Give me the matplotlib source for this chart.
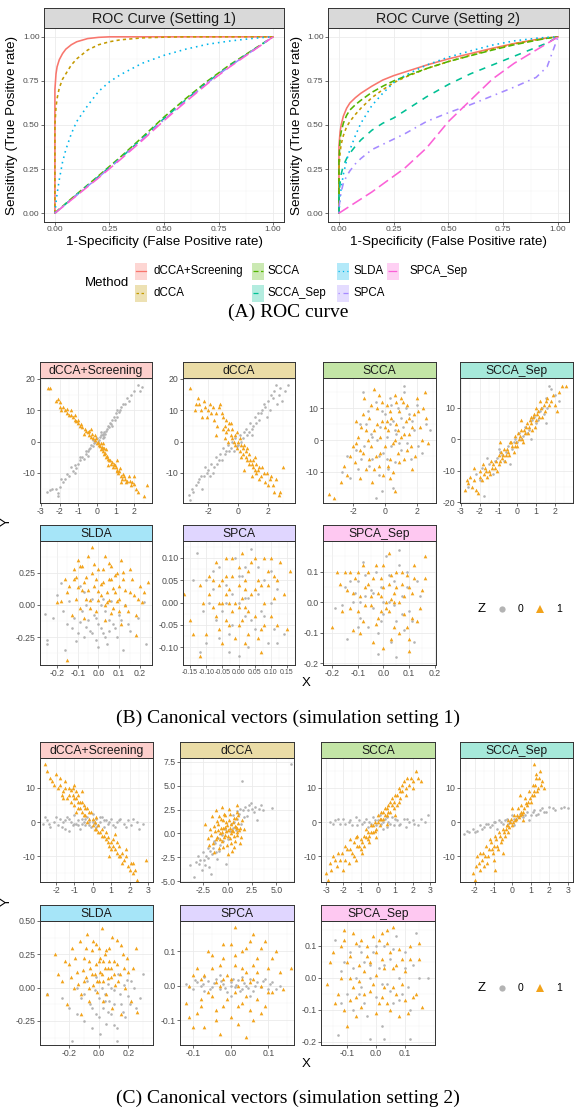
import numpy as np
import matplotlib
matplotlib.use('Agg')
import matplotlib.pyplot as plt
from matplotlib.ticker import AutoMinorLocator
from matplotlib.colors import to_rgb
from matplotlib.patches import Rectangle

plt.rcParams['font.family'] = ['Liberation Sans', 'DejaVu Sans']

# ---------------- data ----------------
methods = ['dCCA+Screening', 'dCCA', 'SCCA', 'SCCA_Sep', 'SLDA', 'SPCA', 'SPCA_Sep']

# ROC curves (false positive rate grid, 0 repeated for the vertical start)
fpr = [0, 0, 0.005, 0.01, 0.02, 0.035, 0.05, 0.075, 0.1, 0.15, 0.2, 0.25, 0.3,
       0.4, 0.5, 0.6, 0.7, 0.8, 0.9, 0.95, 1.0]

s1_screen = [0, 0.70, 0.79, 0.83, 0.87, 0.905, 0.93, 0.955, 0.972, 0.99, 0.997, 1.0, 1.0,
             1.0, 1.0, 1.0, 1.0, 1.0, 1.0, 1.0, 1.0]
s1_dcca = [0, 0.50, 0.60, 0.65, 0.71, 0.76, 0.79, 0.84, 0.875, 0.925, 0.955, 0.972, 0.983,
           0.994, 0.998, 1.0, 1.0, 1.0, 1.0, 1.0, 1.0]
s1_scca = [0, 0, 0.006, 0.012, 0.023, 0.039, 0.055, 0.082, 0.108, 0.16, 0.212, 0.265, 0.318,
           0.43, 0.545, 0.65, 0.75, 0.84, 0.92, 0.96, 1.0]
s1_scca_sep = [0, 0, 0.005, 0.011, 0.022, 0.037, 0.053, 0.079, 0.105, 0.157, 0.208, 0.26, 0.312,
               0.423, 0.537, 0.643, 0.744, 0.835, 0.918, 0.959, 1.0]
s1_slda = [0, 0, 0.06, 0.11, 0.19, 0.29, 0.36, 0.45, 0.52, 0.61, 0.69, 0.745, 0.785,
           0.85, 0.895, 0.93, 0.958, 0.976, 0.99, 0.996, 1.0]
s1_spca = [0, 0, 0.005, 0.01, 0.021, 0.036, 0.051, 0.077, 0.102, 0.153, 0.204, 0.256, 0.308,
           0.418, 0.53, 0.637, 0.74, 0.832, 0.916, 0.958, 1.0]
s1_spca_sep = [0, 0, 0.005, 0.01, 0.02, 0.035, 0.05, 0.075, 0.1, 0.15, 0.2, 0.252, 0.304,
               0.412, 0.525, 0.632, 0.735, 0.828, 0.914, 0.957, 1.0]

s2_screen = [0, 0.38, 0.46, 0.50, 0.55, 0.595, 0.625, 0.655, 0.68, 0.72, 0.755, 0.78, 0.80,
             0.84, 0.875, 0.905, 0.935, 0.962, 0.985, 0.994, 1.0]
s2_dcca = [0, 0.25, 0.34, 0.39, 0.44, 0.49, 0.52, 0.56, 0.595, 0.655, 0.70, 0.74, 0.77,
           0.82, 0.86, 0.895, 0.93, 0.96, 0.983, 0.993, 1.0]
s2_scca = [0, 0.30, 0.42, 0.46, 0.51, 0.555, 0.585, 0.615, 0.64, 0.685, 0.72, 0.75, 0.775,
           0.82, 0.86, 0.893, 0.925, 0.955, 0.98, 0.992, 1.0]
s2_scca_sep = [0, 0.10, 0.17, 0.22, 0.27, 0.31, 0.34, 0.38, 0.415, 0.47, 0.51, 0.54, 0.58,
               0.66, 0.73, 0.79, 0.84, 0.89, 0.94, 0.965, 1.0]
s2_slda = [0, 0, 0.09, 0.14, 0.22, 0.30, 0.36, 0.44, 0.51, 0.61, 0.68, 0.74, 0.78,
           0.84, 0.885, 0.92, 0.953, 0.977, 0.992, 0.997, 1.0]
s2_spca = [0, 0.03, 0.08, 0.12, 0.17, 0.21, 0.24, 0.28, 0.31, 0.36, 0.39, 0.42, 0.45,
           0.52, 0.57, 0.615, 0.665, 0.715, 0.77, 0.83, 1.0]
s2_spca_sep = [0, 0, 0.004, 0.008, 0.016, 0.028, 0.04, 0.06, 0.08, 0.12, 0.165, 0.21, 0.255,
               0.37, 0.52, 0.64, 0.76, 0.85, 0.925, 0.962, 1.0]

# canonical vectors, setting 1: (x, y) points, z0 = grey, z1 = orange
b1_z0 = [(-2.7,-16),(-2.4,-15),(-2.2,-15),(-2.0,-14.5),(-2.1,-17.5),(-2.1,-16.5),(-1.8,-13),(-1.7,-12),
         (-1.5,-11),(-1.3,-9.5),(-1.2,-10),(-1.1,-8.5),(-1.0,-7),(-0.9,-6),(-0.8,-5),(-0.7,-5.5),(-0.6,-4),
         (-0.5,-3),(-0.4,-2.5),(-0.3,-1),(-0.2,-1.5),(-0.1,0),(0.0,1),(0.1,0.5),(0.2,2),(0.3,2.5),(0.4,3),
         (0.5,3.5),(0.6,5),(0.7,6),(0.8,7),(0.9,8),(1.0,9),(1.1,10),(1.2,9.5),(1.3,11),(1.4,12),(1.6,14),
         (1.8,15),(2.0,16),(2.2,18),(2.4,17.5),(-0.5,-4.5),(0.3,1),(-1.4,-8),(0.8,5),
         (-2.5,-15.5),(-1.9,-12),(-1.6,-10.5),(-1.2,-7.5),(-0.9,-5),(-0.6,-3),(-0.35,-2),(-0.15,-0.5),
         (0.05,0),(0.15,1.5),(0.35,2),(0.45,2.5),(0.55,4),(0.65,4.5),(0.75,5.5),(0.95,7),(1.05,8),
         (1.25,10),(1.5,12),(1.7,13),(2.3,16),(0.2,3),(0.4,1.5),(-0.2,0.5)]
b1_z1 = [(-2.6,17),(-2.5,17),(-2.1,13.5),(-2.0,12.5),(-2.0,11),(-1.9,10),(-1.7,10),(-1.6,9),(-1.5,8.5),
         (-1.3,8),(-1.2,7),(-1.1,6.5),(-1.0,6),(-0.9,5),(-0.8,4.5),(-0.6,3.5),(-0.5,3),(-0.4,2),(-0.3,1.5),
         (-0.2,1),(-0.1,0.5),(0.0,-0.5),(0.1,-1),(0.2,-2.5),(0.3,-3),(0.4,-4),(0.5,-5),(0.6,-5.5),(0.7,-6),
         (0.8,-6.5),(0.9,-7),(1.0,-8),(1.1,-9),(1.2,-9.5),(1.3,-11),(1.4,-10.5),(1.5,-12),(1.6,-12.5),
         (1.8,-14),(1.9,-13),(2.0,-11),(2.2,-16),(2.5,-17.5),(2.7,-14),(-1.4,10),(-0.7,2.5),(0.4,-2),
         (0.6,-7.5),(1.1,-6),(1.7,-11),(-0.3,4),(0.2,-0.5),(1.3,-13),
         (-2.2,13),(-1.8,11),(-1.6,10.5),(-1.4,8.5),(-1.2,8.5),(-1.0,7),(-0.85,5.5),(-0.65,4),(-0.45,3.5),
         (-0.25,2.5),(-0.05,1),(0.05,-0.2),(0.15,-1.5),(0.25,-1.8),(0.35,-2.2),(0.45,-3.5),(0.55,-4.5),
         (0.65,-6),(0.75,-7),(0.85,-8),(0.95,-7.5),(1.05,-9.5),(1.15,-10),(1.25,-8.5),(1.35,-12),
         (1.45,-11),(1.55,-13),(1.75,-12.5),(2.0,-13.5),(2.1,-15),(0.3,-0.5),(0.5,-2.5),(-0.1,2)]
b2_z0 = [(-3.3,-17),(-3.2,-18.5),(-3.1,-15),(-2.8,-14),(-2.7,-13),(-2.4,-15),(-2.3,-11),(-2.2,-8),(-2.0,-9),
         (-1.8,-7),(-1.7,-10),(-1.5,-5),(-1.4,-7),(-1.2,-4),(-1.1,-6),(-1.0,-2),(-0.8,-3),(-0.7,-1),(-0.5,-2),
         (-0.4,0),(-0.2,1),(0.0,-1),(0.1,2),(0.3,1),(0.4,3),(0.5,4),(0.7,3),(0.8,6),(1.0,5),(1.1,8),(1.3,9),
         (1.4,7),(1.6,10),(1.8,11),(2.0,13),(2.2,15),(2.4,16),(2.5,18),(2.8,17),(3.1,16),(-2.5,-11),
         (-0.3,-3),(0.9,2),(1.9,8),(2.9,13),
         (-3.0,-16),(-2.6,-12),(-2.1,-10),(-1.9,-11),(-1.6,-8),(-1.3,-6),(-0.9,-4),(-0.6,-3),(-0.1,-1.5),
         (0.2,0),(0.6,2),(0.9,4),(1.2,6),(1.5,9),(1.7,12),(2.1,10),(2.3,14),(2.6,12),(2.7,15),(3.3,18)]
b2_z1 = [(-3.2,17),(-2.8,12),(-2.5,10),(-2.4,8),(-2.3,13),(-2.2,11),(-2.0,10),(-1.8,9),(-1.6,7),(-1.4,5),
         (-1.3,11),(-1.2,12),(-1.0,8),(-0.9,5),(-0.8,3),(-0.6,6),(-0.5,2),(-0.4,4),(-0.3,0),(-0.2,-1),(0.0,0),
         (0.1,-3),(0.2,-1),(0.3,-4),(0.5,-5),(0.6,-2),(0.7,-7),(0.8,-6),(1.0,-8),(1.1,-5),(1.2,-10),(1.3,-9),
         (1.5,-11),(1.6,-8),(1.8,-13),(1.9,-10),(2.1,-12),(2.3,-14),(2.5,-12),(2.7,-17),(2.8,-16),(3.0,-8),
         (-1.5,2),(-0.7,0),(0.4,-9),(-2.9,10),(0.9,-11),(-0.1,3),
         (-2.7,14),(-2.1,8),(-1.9,12),(-1.7,11),(-1.5,9),(-1.1,9),(-1.0,4),(-0.8,7),(-0.7,4),(-0.5,6),
         (-0.4,1),(-0.2,2),(-0.1,-2),(0.1,1),(0.2,-5),(0.3,-2),(0.4,-1),(0.6,-6),(0.7,-4),(0.9,-7),(1.0,-6),
         (1.1,-9),(1.2,-7),(1.4,-8),(1.4,-12),(1.7,-10),(2.0,-14),(2.2,-11),(2.4,-16),(-2.6,12),(-0.9,1),
         (0.5,-3)]
b3_z0 = [(-2.4,-5),(-2.2,-12),(-1.8,-3),(-1.6,5),(-1.4,15),(-1.3,-2),(-1.1,9),(-1.0,-8),(-0.9,2),(-0.8,-6),
         (-0.6,12),(-0.5,0),(-0.4,-11),(-0.3,4),(-0.1,-4),(0.0,8),(0.1,1),(0.2,-9),(0.3,13),(0.4,-2),(0.5,6),
         (0.6,-7),(0.7,2),(0.8,10),(1.0,-3),(1.1,4),(1.2,15),(1.4,-1),(1.5,8),(1.6,-6),(1.8,3),(2.0,11),
         (2.3,-4),(2.6,5),(2.8,3),(-0.2,-16),(-0.6,-18),(0.5,-15),(1.2,17),(-1.7,-9),
         (-1.2,5),(-0.8,1),(-0.2,9),(0.1,-6),(0.3,5),(0.6,3),(0.9,-1),(1.3,10),(1.7,6),(2.1,-2),(-1.5,-6),
         (-0.4,-5),(0.4,11),(1.0,7),(-2.7,-10)]
b3_z1 = [(-3.5,-17),(-3.2,-18),(-2.6,-8),(-2.4,-11),(-2.0,-2),(-1.9,-7),(-1.7,1),(-1.6,-12),(-1.5,4),
         (-1.4,-4),(-1.3,13),(-1.2,-9),(-1.1,0),(-1.0,7),(-0.9,-2),(-0.8,-13),(-0.7,3),(-0.6,-5),(-0.5,10),
         (-0.4,-8),(-0.3,1),(-0.2,6),(-0.1,-11),(0.0,-2),(0.1,11),(0.2,3),(0.3,-6),(0.4,7),(0.5,-1),(0.6,14),
         (0.7,5),(0.8,-4),(0.9,9),(1.0,1),(1.1,12),(1.2,-6),(1.3,6),(1.4,11),(1.5,2),(1.6,-2),(1.8,8),
         (1.9,-5),(2.0,13),(2.2,4),(2.4,10),(2.5,15),(2.7,-1),(-0.7,16),(0.3,-12),(-1.8,6),(1.7,-9),(0.6,-16),
         (-2.8,-13),(-2.2,-5),(-1.8,-1),(-1.4,8),(-1.2,3),(-1.0,-6),(-0.9,11),(-0.7,-9),(-0.5,5),(-0.3,-4),
         (-0.2,12),(0.0,4),(0.2,-8),(0.3,9),(0.5,-10),(0.6,0),(0.8,3),(0.9,-7),(1.0,13),(1.2,2),(1.4,-3),
         (1.5,7),(1.7,4),(2.1,9),(2.3,0),(2.6,7),(-0.4,14),(0.7,12),(-1.6,-3),(0.1,6)]
b4_z0 = [(-2.2,-11),(-1.8,-18),(-1.9,-9),(-1.5,-8),(-1.3,-11),(-1.1,-6),(-0.9,-4),(-0.7,-7),(-0.5,-2),
         (-0.3,-3),(-0.1,0),(0.0,-1),(0.1,2),(0.3,1),(0.4,4),(0.6,3),(0.8,6),(1.0,5),(1.2,9),(1.4,8),
         (1.5,13),(1.6,10),(1.7,17),(1.8,16),(1.5,5),(-0.4,-8),(-1.0,-3),(0.7,0),
         (-2.6,-15),(-1.6,-6),(-1.2,-7),(-0.8,-5),(-0.6,-4),(-0.2,-1),(0.2,0),(0.5,2),(0.9,7),(1.1,6),
         (1.3,10),(2.0,14),(2.2,12),(-2.0,-13)]
b4_z1 = [(-2.8,-16),(-2.6,-14),(-2.5,-12),(-2.3,-13),(-2.2,-16),(-2.1,-17),(-2.0,-10),(-1.9,-13),(-1.8,-11),
         (-1.7,-9),(-1.6,-12),(-1.5,-10),(-1.4,-7),(-1.3,-8),(-1.2,-9),(-1.1,-10),(-1.0,-5),(-0.9,-7),
         (-0.8,-6),(-0.7,-3),(-0.6,-5),(-0.5,-4),(-0.4,-1),(-0.3,-2),(-0.2,-4),(-0.1,1),(0.0,-2),(0.1,0),
         (0.2,3),(0.3,-1),(0.4,2),(0.5,5),(0.6,4),(0.7,7),(0.8,3),(0.9,8),(1.0,6),(1.1,9),(1.2,12),(1.3,7),
         (1.4,11),(1.6,13),(1.8,12),(2.0,11),(2.1,9),(2.4,17),(2.6,17),(-2.3,-9),(0.2,6),(-0.9,-1),(1.0,10),
         (-2.7,-13),(-2.4,-15),(-2.0,-12),(-1.85,-8),(-1.65,-10),(-1.45,-11),(-1.35,-9),(-1.15,-7),
         (-0.95,-8),(-0.85,-4),(-0.75,-5),(-0.65,-7),(-0.55,-3),(-0.45,-5),(-0.35,-1),(-0.15,-2),(-0.05,-1),
         (0.05,2),(0.15,1),(0.25,0),(0.35,3),(0.45,4),(0.55,2),(0.65,6),(0.75,5),(0.85,7),(0.95,4),(1.05,8),
         (1.15,7),(1.25,10),(1.45,9),(1.55,12),(1.7,11),(1.9,14),(2.2,15)]
b5_z0 = [(-0.26,-0.07),(-0.25,-0.27),(-0.25,-0.30),(-0.2,0.08),(-0.18,0.17),(-0.15,-0.15),(-0.14,0.03),
         (-0.12,-0.1),(-0.1,-0.22),(-0.09,0.15),(-0.08,-0.05),(-0.07,-0.25),(-0.06,0.0),(-0.05,-0.12),
         (-0.04,-0.2),(-0.03,0.05),(-0.02,-0.08),(-0.01,-0.27),(0.0,-0.15),(0.01,0.0),(0.02,-0.22),
         (0.03,-0.05),(0.04,-0.3),(0.05,-0.12),(0.06,0.03),(0.08,-0.18),(0.1,-0.08),(0.12,-0.35),(0.13,0.0),
         (0.15,-0.2),(0.19,-0.1),(0.22,0.02),(0.23,-0.3),(-0.11,-0.28),(0.0,-0.33),(-0.16,-0.35),
         (-0.22,-0.1),(-0.17,-0.05),(-0.13,-0.18),(-0.09,-0.13),(-0.06,-0.17),(-0.03,-0.22),(-0.01,-0.1),
         (0.01,-0.18),(0.03,-0.25),(0.05,-0.2),(0.07,-0.15),(0.09,-0.25),(0.11,-0.12),(0.14,-0.15),
         (-0.07,0.1),(0.02,0.05)]
b5_z1 = [(-0.15,-0.43),(-0.2,0.02),(-0.18,0.03),(-0.15,0.1),(-0.13,-0.08),(-0.12,0.2),(-0.11,0.05),
         (-0.1,0.35),(-0.09,0.3),(-0.08,0.12),(-0.07,-0.1),(-0.06,0.22),(-0.05,0.38),(-0.04,0.04),
         (-0.03,0.45),(-0.02,0.15),(-0.01,-0.05),(0.0,0.28),(0.01,0.08),(0.02,0.18),(0.03,-0.12),(0.04,0.02),
         (0.05,0.33),(0.06,0.2),(0.07,-0.02),(0.08,0.1),(0.09,0.25),(0.1,0.05),(0.11,-0.15),(0.12,0.2),
         (0.13,0.12),(0.14,-0.05),(0.15,0.28),(0.17,0.08),(0.18,-0.08),(0.2,0.15),(0.21,0.02),(0.24,0.18),
         (0.18,-0.23),(-0.04,-0.02),(0.03,0.0),(0.06,-0.06),(-0.1,0.14),(0.0,0.11),(0.11,0.35),(0.05,0.04),
         (-0.16,0.2),(-0.14,0.15),(-0.11,0.22),(-0.08,0.3),(-0.07,0.18),(-0.06,0.05),(-0.05,0.12),
         (-0.03,0.25),(-0.02,0.32),(-0.01,0.2),(0.0,0.04),(0.01,0.16),(0.02,0.28),(0.04,0.1),(0.05,0.2),
         (0.06,0.3),(0.07,0.13),(0.08,0.23),(0.09,0.03),(0.1,0.15),(0.12,0.26),(0.13,0.0),(0.15,0.1),
         (0.16,0.2),(0.19,0.05),(0.22,0.1),(-0.12,0.28),(0.03,0.38),(0.1,-0.05),(-0.09,-0.02)]
b6_z0 = [(-0.13,0.11),(-0.12,-0.11),(-0.1,0.05),(-0.09,0.0),(-0.08,0.03),(-0.07,-0.04),(-0.06,0.08),
         (-0.05,-0.02),(-0.04,0.04),(-0.03,-0.07),(-0.02,0.02),(-0.01,0.1),(0.0,-0.12),(0.0,0.0),(0.01,0.06),
         (0.02,-0.03),(0.03,0.01),(0.04,0.12),(0.05,-0.06),(0.06,0.02),(0.07,-0.02),(0.08,0.05),(0.09,-0.09),
         (0.1,0.0),(0.11,-0.06),(0.12,0.03),(0.14,-0.07),(-0.03,-0.11),(0.02,0.08),(-0.11,-0.02),
         (-0.08,0.07),(-0.06,-0.08),(-0.04,0.0),(-0.02,-0.05),(0.0,0.06),(0.02,0.01),(0.04,-0.04),
         (0.06,0.08),(0.08,-0.03),(0.1,0.07),(0.12,-0.09),(-0.14,0.05),(0.03,-0.1),(-0.1,-0.09)]
b6_z1 = [(-0.17,0.02),(-0.15,-0.04),(-0.12,-0.12),(-0.1,-0.07),(-0.09,0.02),(-0.08,-0.01),(-0.07,0.09),
         (-0.06,0.0),(-0.06,-0.06),(-0.05,0.05),(-0.04,-0.04),(-0.04,0.1),(-0.03,0.03),(-0.02,-0.02),
         (-0.02,0.06),(-0.01,-0.08),(0.0,0.04),(0.0,-0.05),(0.01,0.01),(0.01,0.11),(0.02,-0.01),(0.03,0.07),
         (0.03,-0.07),(0.04,0.02),(0.05,0.1),(0.05,-0.03),(0.06,0.05),(0.07,-0.06),(0.08,0.0),(0.08,0.1),
         (0.09,0.04),(0.1,-0.03),(0.11,0.06),(0.12,-0.05),(0.13,0.09),(0.14,0.02),(0.16,0.07),(-0.05,-0.09),
         (0.07,-0.11),(-0.12,0.04),(0.02,0.03),(-0.03,0.0),
         (-0.14,-0.07),(-0.11,0.0),(-0.09,0.06),(-0.07,-0.03),(-0.06,0.04),(-0.05,0.0),(-0.04,0.06),
         (-0.03,-0.05),(-0.02,0.1),(-0.01,0.0),(0.0,0.08),(0.01,-0.04),(0.02,0.05),(0.03,-0.02),(0.04,0.09),
         (0.05,0.03),(0.06,-0.08),(0.07,0.04),(0.08,-0.05),(0.09,0.07),(0.1,0.1),(0.11,0.01),(0.12,0.05),
         (0.15,-0.06),(-0.08,0.05),(0.0,-0.01),(-0.04,0.02),(0.02,-0.09)]
b7_z0 = [(-0.19,-0.02),(-0.15,0.05),(-0.14,-0.12),(-0.12,0.0),(-0.1,0.07),(-0.09,-0.05),(-0.08,0.13),
         (-0.07,0.02),(-0.06,-0.08),(-0.05,0.04),(-0.04,-0.02),(-0.03,0.1),(-0.02,-0.1),(-0.01,0.05),
         (0.0,-0.04),(0.01,0.15),(0.02,0.0),(0.03,-0.13),(0.04,0.07),(0.05,-0.06),(0.06,0.12),(0.07,0.02),
         (0.08,-0.09),(0.09,0.05),(0.1,-0.03),(0.12,-0.13),(0.14,0.02),(0.05,-0.18),(-0.02,-0.17),
         (0.06,0.17),(-0.11,0.03),
         (-0.16,-0.01),(-0.13,0.07),(-0.1,-0.08),(-0.07,0.09),(-0.04,0.03),(-0.01,-0.06),(0.02,0.09),
         (0.04,-0.01),(0.07,-0.04),(0.09,0.1),(0.11,-0.06),(0.13,0.07),(-0.09,0.0),(0.0,0.0)]
b7_z1 = [(-0.2,-0.08),(-0.17,0.06),(-0.15,0.1),(-0.14,0.04),(-0.13,-0.02),(-0.12,-0.09),(-0.11,0.08),
         (-0.1,-0.03),(-0.09,0.02),(-0.08,-0.06),(-0.07,0.05),(-0.06,0.1),(-0.05,-0.01),(-0.04,0.08),
         (-0.03,-0.07),(-0.02,0.03),(-0.01,-0.03),(0.0,0.12),(0.0,-0.15),(0.01,-0.02),(0.02,0.06),(0.03,0.01),
         (0.04,-0.08),(0.05,0.1),(0.06,0.0),(0.07,0.06),(0.08,-0.04),(0.09,0.09),(0.1,-0.12),(0.11,0.03),
         (0.12,0.08),(0.13,-0.06),(0.15,0.04),(0.16,0.15),(-0.04,-0.13),(0.02,0.16),(-0.01,0.02),(0.04,0.03),
         (0.1,-0.16),(-0.08,0.12),
         (-0.18,0.1),(-0.16,-0.03),(-0.12,0.03),(-0.1,0.1),(-0.09,-0.1),(-0.07,-0.01),(-0.06,0.06),
         (-0.05,0.02),(-0.03,0.12),(-0.02,-0.05),(-0.01,0.08),(0.0,0.05),(0.01,0.0),(0.02,-0.03),(0.03,0.09),
         (0.04,0.0),(0.05,0.05),(0.06,-0.1),(0.07,0.1),(0.08,0.02),(0.1,0.05),(0.11,-0.05),(0.12,0.12),
         (0.14,-0.02),(0.16,0.08),(-0.13,0.1),(0.03,-0.12),(0.09,-0.08)]

# canonical vectors, setting 2
c1_z0 = [(-2.6,1.5),(-2.5,0.5),(-2.3,-1.5),(-2.1,0),(-1.9,-1),(-1.8,1),(-1.6,0),(-1.5,-2),(-1.4,1.5),
         (-1.2,0),(-1.1,-1),(-1.0,2),(-0.9,-0.5),(-0.8,0.5),(-0.7,-2),(-0.6,1),(-0.5,0),(-0.4,-1),(-0.3,1.5),
         (-0.2,0),(-0.1,-1.5),(0.0,0.5),(0.1,-0.5),(0.2,1),(0.3,-1),(0.4,0),(0.5,1.5),(0.6,-1.5),(0.7,0.5),
         (0.8,-0.5),(1.0,1),(1.1,-1),(1.3,0),(1.5,1),(1.7,-0.5),(1.9,0.5),(2.1,-1),(2.4,0),(2.5,-2),
         (-2.7,-0.5),(0.0,2.5),(-1.3,-2.5),
         (-2.4,-0.5),(-2.0,1.5),(-1.7,-1.5),(-1.5,0.5),(-1.3,1),(-1.0,-0.5),(-0.8,-1),(-0.6,-0.5),(-0.4,1),
         (-0.2,-1),(0.0,0),(0.2,-1.5),(0.4,1.5),(0.6,0.5),(0.9,0),(1.2,-1.5),(1.4,0.5),(1.8,-1.5),(2.2,1),
         (2.7,-0.5)]
c1_z1 = [(-2.6,17),(-2.5,15),(-2.2,12),(-2.0,14),(-1.9,10),(-1.8,11),(-1.7,8),(-1.6,9),(-1.5,12),(-1.4,7),
         (-1.3,10),(-1.2,6),(-1.1,8),(-1.0,5),(-0.9,7),(-0.8,4),(-0.7,6),(-0.6,3),(-0.5,5),(-0.4,2),(-0.3,4),
         (-0.2,1),(-0.1,3),(0.0,-1),(0.1,0),(0.2,-2),(0.3,-1),(0.4,-3),(0.5,-2),(0.6,-4),(0.7,-5),(0.8,-4.5),
         (0.9,-7),(1.0,-6),(1.1,-5),(1.2,-8),(1.3,-9),(1.4,-7),(1.5,-10),(1.6,-12),(1.7,-11),(1.8,-8),
         (1.9,-13),(2.1,-12),(2.2,-15),(2.3,-14),(2.4,-17),(2.9,-11),(-0.6,9),(-1.0,11),(0.2,1.5),(-0.9,3),
         (0.9,-10),(1.2,-3.5),
         (-2.3,13),(-2.1,11),(-1.8,13),(-1.6,7),(-1.5,10),(-1.3,8),(-1.1,10),(-1.0,7),(-0.9,9),(-0.8,6),
         (-0.7,4),(-0.6,6),(-0.5,2),(-0.4,4),(-0.3,0),(-0.2,3),(0.0,1),(0.1,-2),(0.3,-3),(0.5,-4),(0.7,-3),
         (0.8,-6),(1.0,-8),(1.1,-7),(1.3,-6),(1.4,-10),(1.6,-9),(1.8,-10),(2.0,-14),(2.2,-12),(-1.2,9.5),
         (-0.8,8)]
c2_z0 = [(-3.9,-3.3),(-3.5,-4.6),(-3.3,-3.0),(-3.0,-3.2),(-2.8,-2.8),(-2.6,-3.8),(-2.5,-2.0),(-2.3,-3.3),
         (-2.2,-2.4),(-2.0,-2.6),(-1.8,-1.8),(-1.7,-4.3),(-1.5,-1.5),(-1.3,-1.0),(-1.2,-2.0),(-1.0,-0.5),
         (-0.8,-1.2),(-0.6,-0.2),(-0.3,0.5),(0.0,-0.6),(0.3,1.0),(0.6,1.2),(0.8,0.3),(1.0,1.5),(1.2,2.0),
         (1.4,1.0),(1.6,2.4),(1.8,2.8),(2.0,1.8),(2.2,3.0),(2.5,2.6),(2.8,2.8),(3.2,2.6),(3.6,2.4),(4.5,2.7),
         (6.5,7.3),(1.5,5.5),(3.0,1.4),(-0.2,-3.2),(-2.0,-1.5),
         (-3.1,-2.4),(-2.4,-2.8),(-1.9,-3.5),(-1.6,-2.2),(-1.4,-0.8),(-0.9,-1.8),(-0.5,-0.8),(0.2,0.2),
         (0.5,0.6),(0.9,2.3),(1.3,2.6),(1.7,1.7),(2.1,2.4),(2.4,3.2),(2.7,2.2),(3.4,3.0),(-1.1,-2.7),(0.5,1.9)]
c2_z1 = [(-2.3,1.0),(-2.0,-0.5),(-1.8,0.5),(-1.6,1.8),(-1.5,-1.0),(-1.3,0.2),(-1.2,2.5),(-1.1,-0.4),
         (-1.0,1.0),(-0.9,-1.5),(-0.8,0.0),(-0.7,1.5),(-0.6,-0.8),(-0.5,0.6),(-0.4,2.0),(-0.3,-0.2),(-0.2,1.2),
         (-0.1,-1.2),(0.0,0.4),(0.1,2.6),(0.2,-0.5),(0.3,1.0),(0.4,-1.8),(0.5,0.2),(0.6,1.6),(0.7,-0.8),
         (0.8,0.7),(0.9,2.2),(1.0,-0.2),(1.1,1.1),(1.2,0.3),(1.3,-1.0),(1.5,1.4),(1.7,0.5),(-1.4,-2.0),
         (0.0,-2.2),(1.0,3.0),(-0.6,2.8),(0.3,0.0),(-0.3,0.7),(0.6,-1.4),(-1.9,-1.2),
         (-1.7,-0.2),(-1.4,0.8),(-1.2,-0.6),(-1.0,0.3),(-0.9,1.8),(-0.8,-0.6),(-0.7,0.6),(-0.6,0.1),
         (-0.5,1.4),(-0.4,-0.4),(-0.3,1.9),(-0.2,0.2),(-0.1,0.9),(0.0,-0.3),(0.1,1.4),(0.2,0.6),(0.3,-1.0),
         (0.4,0.3),(0.5,1.2),(0.6,-0.3),(0.7,0.8),(0.8,1.6),(0.9,0.1),(1.0,0.6),(1.1,1.9),(1.3,0.6),
         (1.4,-0.4),(-0.5,-1.4),(0.2,2.0),(-1.1,1.3)]
c3_z0 = [(-2.8,0),(-2.5,0.5),(-2.2,-0.5),(-2.0,1),(-1.7,0),(-1.5,-1),(-1.3,1.5),(-1.1,0.5),(-0.9,-0.5),
         (-0.7,1),(-0.5,0),(-0.3,1.5),(-0.1,-1),(0.0,0.5),(0.1,2),(0.2,-0.5),(0.4,1),(0.5,-1.5),(0.6,0),
         (0.8,1.5),(0.9,-1),(1.1,0.5),(1.3,-0.5),(1.5,1),(1.6,-1.5),(1.8,0),(2.0,0.5),(2.3,-1),(2.5,1),
         (2.9,2),(0.3,-2),(-0.6,-1.5),
         (-2.6,-0.5),(-2.3,1),(-1.9,-0.5),(-1.6,0.5),(-1.2,-1),(-0.8,0),(-0.4,-0.5),(-0.2,0.5),(0.3,0),
         (0.7,-0.5),(1.0,1),(1.2,-1),(1.7,1),(2.1,-0.5),(2.7,0),(0.5,1.5)]
c3_z1 = [(-3.0,-15),(-2.9,-17),(-2.8,-12),(-2.6,-10),(-2.4,-13),(-2.2,-11),(-2.1,-9),(-2.0,-14),(-1.9,-7),
         (-1.8,-8),(-1.7,-12),(-1.6,-5),(-1.5,-9),(-1.4,-6),(-1.3,-11),(-1.2,-4),(-1.1,-7),(-1.0,-5),
         (-0.9,-9),(-0.8,-4),(-0.7,-2),(-0.6,-5),(-0.5,-4),(-0.4,-1),(-0.3,-3),(-0.2,0),(-0.1,-2),(0.0,2),
         (0.1,-1),(0.2,3),(0.3,1),(0.4,4),(0.5,2),(0.6,5),(0.7,3),(0.8,7),(0.9,4),(1.0,8),(1.1,5),(1.2,10),
         (1.3,7),(1.4,9),(1.5,12),(1.6,8),(1.8,11),(1.9,13),(2.0,10),(2.2,15),(2.5,12),(1.0,2),(-1.3,-4.5),
         (-0.7,-4.5),
         (-2.7,-14),(-2.5,-11),(-2.3,-9),(-1.9,-11),(-1.6,-8),(-1.4,-10),(-1.2,-7),(-1.0,-8),(-0.9,-6),
         (-0.8,-7),(-0.6,-3),(-0.5,-6),(-0.4,-3),(-0.3,-1),(-0.2,-2.5),(0.0,0),(0.1,1),(0.2,1),(0.3,3),
         (0.4,2),(0.5,4),(0.6,3),(0.7,6),(0.8,5),(0.9,6),(1.1,8),(1.2,6),(1.3,9),(1.4,11),(1.6,10),(1.7,13),
         (2.0,12),(2.3,13),(-0.1,-4.5),(0.5,-0.5)]
c4_z0 = [(-2.6,-3.5),(-2.3,-3),(-2.1,-2),(-1.9,-2.5),(-1.7,-1),(-1.5,-1.5),(-1.3,-0.5),(-1.1,-1),(-0.9,0),
         (-0.7,0.5),(-0.5,-0.5),(-0.3,1),(-0.1,0),(0.0,2),(0.2,1),(0.4,2.5),(0.6,1.5),(0.8,3),(1.0,2),
         (1.2,3.5),(1.4,2.5),(1.6,4),(1.8,3),(2.0,4.5),(2.3,3.5),(2.6,4),(3.0,4),(0.1,-1),(-0.8,-2),(0.9,0.5),
         (-2.4,-2.5),(-2.0,-3),(-1.6,-2),(-1.4,-0.5),(-1.0,0),(-0.6,0),(-0.4,0.5),(-0.2,-0.5),(0.1,1),
         (0.3,1.5),(0.5,2),(0.7,2),(1.1,3),(1.3,2),(1.5,3.5),(1.7,3),(2.2,4),(2.8,4.5),(-1.2,-1.5)]
c4_z1 = [(-2.1,-15),(-2.0,-17),(-1.9,-10),(-1.8,-12),(-1.7,-9),(-1.6,-11),(-1.5,-13),(-1.4,-7),(-1.3,-10),
         (-1.2,-5),(-1.1,-8),(-1.0,-11),(-0.9,-4),(-0.8,-7),(-0.7,-3),(-0.6,-6),(-0.5,-2),(-0.4,-4),(-0.3,-1),
         (-0.2,-3),(-0.1,0),(0.0,-1),(0.1,2),(0.2,1),(0.3,4),(0.4,2),(0.5,5),(0.6,3),(0.7,7),(0.8,5),(0.9,9),
         (1.0,6),(1.1,11),(1.2,8),(1.3,13),(1.4,10),(1.5,15),(1.6,12),(1.7,10),(1.2,17),(-0.5,-9),(-0.9,-14),
         (0.4,8),(-0.2,0.5),(0.6,0.5),(0.0,4),
         (-1.95,-13),(-1.75,-14),(-1.55,-9),(-1.45,-10),(-1.35,-12),(-1.25,-8),(-1.15,-6),(-1.05,-9),
         (-0.95,-7),(-0.85,-5),(-0.75,-8),(-0.65,-4),(-0.55,-5),(-0.45,-3),(-0.35,-2),(-0.25,-1),(-0.15,-1.5),
         (-0.05,1),(0.05,0),(0.15,0.5),(0.25,2),(0.35,1.5),(0.45,3),(0.55,2.5),(0.65,4),(0.75,5.5),(0.85,6),
         (0.95,7),(1.05,8),(1.15,9),(1.25,11),(1.35,9),(1.45,13),(1.55,11),(1.3,14)]
c5_z0 = [(-0.35,-0.05),(-0.2,-0.15),(-0.18,-0.4),(-0.15,0.0),(-0.12,-0.08),(-0.1,-0.25),(-0.08,0.05),
         (-0.06,-0.12),(-0.05,-0.3),(-0.03,-0.02),(-0.02,-0.2),(0.0,-0.08),(0.01,-0.35),(0.02,0.0),
         (0.03,-0.15),(0.04,-0.05),(0.05,-0.27),(0.06,0.03),(0.07,-0.1),(0.08,-0.2),(0.1,-0.02),(0.12,-0.3),
         (0.13,0.1),(0.15,-0.12),(0.17,0.02),(0.18,-0.22),(0.2,-0.06),(0.22,0.05),(0.25,-0.15),(0.3,0.1),
         (0.12,-0.4),(-0.02,0.08),
         (-0.25,-0.08),(-0.15,-0.2),(-0.1,-0.05),(-0.05,-0.15),(0.0,-0.22),(0.04,-0.1),(0.06,-0.18),
         (0.08,0.0),(0.1,-0.12),(0.14,-0.05),(0.16,-0.18),(0.19,0.06),(0.21,-0.12),(0.24,0.0),(0.28,-0.08),
         (0.1,-0.28)]
c5_z1 = [(-0.35,-0.05),(-0.3,0.25),(-0.25,0.05),(-0.22,-0.12),(-0.2,0.18),(-0.18,0.3),(-0.17,0.0),
         (-0.15,0.12),(-0.13,0.35),(-0.12,-0.05),(-0.1,0.22),(-0.09,0.08),(-0.08,0.4),(-0.07,-0.1),
         (-0.06,0.15),(-0.05,0.28),(-0.04,0.02),(-0.03,0.1),(-0.02,0.33),(-0.01,-0.03),(0.0,0.2),(0.01,0.12),
         (0.02,0.45),(0.03,0.05),(0.04,0.25),(0.05,-0.05),(0.06,0.15),(0.07,0.3),(0.08,0.08),(0.09,-0.15),
         (0.1,0.2),(0.11,0.02),(0.12,0.36),(0.14,0.1),(0.15,-0.2),(0.16,0.25),(0.18,0.0),(0.2,0.12),
         (0.22,-0.1),(0.25,0.3),(0.26,-0.18),(-0.12,-0.2),(0.0,0.05),(0.03,-0.1),(-0.07,0.0),
         (-0.28,0.1),(-0.23,0.2),(-0.19,0.08),(-0.16,0.22),(-0.14,0.03),(-0.11,0.13),(-0.09,0.3),
         (-0.07,0.2),(-0.05,0.1),(-0.04,0.35),(-0.02,0.18),(-0.01,0.05),(0.0,0.3),(0.01,0.22),(0.02,0.1),
         (0.03,0.2),(0.04,0.15),(0.05,0.28),(0.06,0.07),(0.07,0.2),(0.08,0.15),(0.09,0.38),(0.1,0.1),
         (0.12,0.18),(0.13,0.05),(0.15,0.32),(0.17,0.15),(0.19,0.22),(0.23,0.15),(-0.1,0.05)]
c6_z0 = [(-0.12,0.005),(-0.1,-0.01),(-0.09,0.01),(-0.08,0.0),(-0.07,-0.015),(-0.06,0.012),(-0.05,-0.005),
         (-0.04,0.02),(-0.03,-0.01),(-0.02,0.005),(-0.01,-0.02),(0.0,0.01),(0.01,-0.005),(0.02,0.015),
         (0.03,-0.01),(0.04,0.0),(0.05,0.02),(0.06,-0.015),(0.07,0.01),(0.08,-0.005),(0.09,0.02),(0.1,-0.01),
         (0.11,0.01),(0.13,0.0),(-0.03,0.03),(0.0,-0.03),(0.05,-0.03),(-0.07,0.025),
         (-0.11,-0.005),(-0.095,0.015),(-0.075,0.005),(-0.055,-0.01),(-0.045,0.008),(-0.025,0.012),
         (-0.015,-0.008),(0.005,0.018),(0.015,0.002),(0.025,-0.015),(0.035,0.008),(0.045,-0.008),
         (0.065,0.0),(0.085,0.012),(0.105,0.005),(0.12,-0.01),(0.0,0.0),(0.03,0.025)]
c6_z1 = [(-0.12,-0.05),(-0.1,0.03),(-0.09,-0.08),(-0.08,0.02),(-0.07,-0.12),(-0.06,0.1),(-0.05,-0.03),
         (-0.05,0.05),(-0.04,-0.1),(-0.03,0.0),(-0.03,-0.14),(-0.02,0.08),(-0.02,-0.06),(-0.01,0.03),
         (0.0,-0.09),(0.0,0.12),(0.01,-0.02),(0.01,0.06),(0.02,-0.11),(0.02,0.0),(0.03,0.1),(0.03,-0.05),
         (0.04,0.04),(0.04,-0.15),(0.05,0.13),(0.05,-0.07),(0.06,0.02),(0.06,0.15),(0.07,-0.04),(0.07,0.08),
         (0.08,0.0),(0.08,0.11),(0.09,-0.06),(0.1,0.05),(0.11,-0.02),(0.12,0.1),(0.14,-0.01),(0.16,0.05),
         (-0.08,-0.04),(0.01,0.17),(-0.11,-0.09),(0.03,0.02),
         (-0.11,0.0),(-0.1,-0.12),(-0.09,0.05),(-0.08,-0.06),(-0.07,0.03),(-0.06,-0.02),(-0.05,0.09),
         (-0.04,0.01),(-0.03,0.06),(-0.02,0.02),(-0.01,-0.04),(0.0,0.02),(0.01,0.09),(0.02,-0.06),(0.03,0.05),
         (0.04,-0.03),(0.05,0.01),(0.06,-0.1),(0.07,0.04),(0.08,-0.08),(0.09,0.13),(0.1,-0.02),(0.11,0.08),
         (0.13,0.04),(-0.04,-0.07),(0.06,0.06),(0.04,0.11),(-0.02,0.12)]
c7_z0 = [(-0.14,0.12),(-0.13,-0.18),(-0.12,0.02),(-0.1,-0.05),(-0.09,0.08),(-0.08,-0.1),(-0.07,0.0),
         (-0.06,0.1),(-0.05,-0.03),(-0.04,0.05),(-0.03,-0.12),(-0.02,0.0),(-0.01,0.08),(0.0,-0.06),(0.01,0.03),
         (0.02,-0.15),(0.03,0.1),(0.04,-0.02),(0.05,0.06),(0.06,-0.08),(0.07,0.13),(0.08,0.0),(0.09,-0.05),
         (0.1,0.08),(0.12,-0.1),(0.14,0.14),(0.15,0.0),(0.12,-0.19),(0.03,-0.19),(-0.02,-0.19),(0.18,0.0),
         (-0.12,-0.08),(-0.11,0.05),(-0.08,0.03),(-0.06,-0.05),(-0.04,-0.08),(-0.02,0.04),(0.0,0.1),
         (0.02,-0.02),(0.03,0.04),(0.05,-0.04),(0.06,0.09),(0.08,-0.07),(0.1,0.03),(0.11,-0.03),(0.13,0.04),
         (-0.05,0.08)]
c7_z1 = [(-0.17,-0.02),(-0.15,0.08),(-0.13,-0.05),(-0.12,0.1),(-0.11,-0.1),(-0.1,0.05),(-0.1,-0.15),
         (-0.09,0.0),(-0.08,0.14),(-0.07,-0.06),(-0.06,0.04),(-0.05,0.12),(-0.05,-0.09),(-0.04,0.02),
         (-0.03,0.07),(-0.02,-0.04),(-0.01,0.13),(0.0,0.01),(0.01,-0.08),(0.02,0.06),(0.03,-0.03),(0.04,0.11),
         (0.05,-0.1),(0.06,0.03),(0.07,-0.05),(0.08,0.09),(0.09,-0.02),(0.1,0.02),(0.11,-0.11),(0.12,0.06),
         (0.13,-0.06),(0.15,0.11),(0.16,-0.09),(-0.11,0.15),(0.06,0.16),(-0.07,-0.12),(0.04,0.15),(0.0,-0.11),
         (-0.16,0.05),(-0.14,-0.08),(-0.12,0.0),(-0.11,0.12),(-0.09,0.07),(-0.08,-0.03),(-0.07,0.11),
         (-0.06,-0.01),(-0.04,-0.05),(-0.03,0.1),(-0.02,0.05),(-0.01,-0.02),(0.0,0.08),(0.01,0.12),
         (0.02,-0.06),(0.03,0.03),(0.04,-0.08),(0.05,0.08),(0.06,-0.03),(0.07,0.04),(0.08,-0.12),(0.09,0.06),
         (0.1,-0.07),(0.12,0.1),(0.14,-0.05),(0.15,0.06),(-0.09,-0.07),(0.02,0.14)]

# ---------------- style ----------------
W, H = 577, 1109
hues = ['#F8766D', '#C49A00', '#53B400', '#00C094', '#00B6EB', '#A58AFF', '#FB61D7']
dashes = [None, (2, 2), (4, 2), (4, 4), (1, 2.5), (1, 3, 4, 3), (7, 3)]
grey_pt = '#B3B3B3'
orange_pt = '#F2A31B'


def light(c, a):
    r = np.array(to_rgb(c))
    return tuple(1 - a * (1 - r))


def box(x0, y0, x1, y1):
    return [x0 / W, 1 - y1 / H, (x1 - x0) / W, (y1 - y0) / H]


fig = plt.figure(figsize=(W / 100, H / 100), dpi=100)


def strip(x0, y0, x1, y1, label, color, fs):
    st = fig.add_axes(box(x0, y0, x1, y1))
    st.set_facecolor(color)
    st.set_xticks([])
    st.set_yticks([])
    for s in st.spines.values():
        s.set_color('#333333')
        s.set_linewidth(0.7)
    st.text(0.5, 0.45, label, ha='center', va='center', fontsize=fs, color='#1A1A1A',
            transform=st.transAxes)


def panel(x0, y0, x1, y1, xlim, ylim, xt, xl, yt, yl, fs=6, xfs=None):
    ax = fig.add_axes(box(x0, y0, x1, y1))
    ax.set_xlim(xlim)
    ax.set_ylim(ylim)
    ax.set_xticks(xt, xl)
    ax.set_yticks(yt, yl)
    ax.xaxis.set_minor_locator(AutoMinorLocator(2))
    ax.yaxis.set_minor_locator(AutoMinorLocator(2))
    ax.grid(True, which='major', color='#EBEBEB', lw=0.6)
    ax.grid(True, which='minor', color='#F3F3F3', lw=0.35)
    ax.set_axisbelow(True)
    ax.tick_params(which='major', length=2, width=0.5, color='#333333', labelsize=fs,
                   labelcolor='#4D4D4D', pad=1.2)
    if xfs is not None:
        ax.tick_params(axis='x', labelsize=xfs)
    ax.tick_params(which='minor', length=0)
    for s in ax.spines.values():
        s.set_color('#333333')
        s.set_linewidth(0.7)
    return ax


# ---------------- ROC panels ----------------
roc_t = [0, 0.25, 0.5, 0.75, 1.0]
roc_l = ['0.00', '0.25', '0.50', '0.75', '1.00']
roc_sets = [
    ('ROC Curve (Setting 1)', (44, 28, 284, 222),
     [s1_screen, s1_dcca, s1_scca, s1_scca_sep, s1_slda, s1_spca, s1_spca_sep]),
    ('ROC Curve (Setting 2)', (328, 28, 569, 222),
     [s2_screen, s2_dcca, s2_scca, s2_scca_sep, s2_slda, s2_spca, s2_spca_sep]),
]
for title, (x0, y0, x1, y1), curves in roc_sets:
    ax = panel(x0, y0, x1, y1, (-0.05, 1.05), (-0.05, 1.05), roc_t, roc_l, roc_t, roc_l, fs=6)
    for k, tpr in enumerate(curves):
        ln, = ax.plot(fpr, tpr, color=hues[k], lw=1.15)
        if dashes[k] is not None:
            ln.set_dashes(dashes[k])
    strip(x0, 8, x1, y0, title, '#D9D9D9', 10.3)

# ---------------- scatter panels ----------------
scatter_specs = [
    # setting 1, row 1
    (0, (40, 378, 152, 503), (-3.05, 2.95), (-19.6, 20.3), [-3, -2, -1, 0, 1, 2], None, [-10, 0, 10, 20], None, b1_z0, b1_z1, None),
    (1, (183, 378, 295, 503), (-3.67, 3.8), (-19.6, 20.3), [-2, 0, 2], None, [-10, 0, 10, 20], None, b2_z0, b2_z1, None),
    (2, (323, 378, 436, 503), (-3.9, 3.2), (-19.7, 19.4), [-2, 0, 2], None, [-10, 0, 10], None, b3_z0, b3_z1, None),
    (3, (460, 378, 573, 503), (-3.05, 2.96), (-20.2, 19.4), [-3, -2, -1, 0, 1, 2], None, [-20, -10, 0, 10], None, b4_z0, b4_z1, None),
    # setting 1, row 2
    (4, (40, 541, 152, 665), (-0.282, 0.258), (-0.467, 0.498), [-0.2, -0.1, 0, 0.1, 0.2], ['-0.2', '-0.1', '0.0', '0.1', '0.2'],
     [-0.25, 0, 0.25], ['-0.25', '0.00', '0.25'], b5_z0, b5_z1, None),
    (5, (183, 541, 295, 665), (-0.172, 0.175), (-0.14, 0.138), [-0.15, -0.1, -0.05, 0, 0.05, 0.1, 0.15],
     ['-0.15', '-0.10', '-0.05', '0.00', '0.05', '0.10', '0.15'], [-0.1, -0.05, 0, 0.05, 0.1],
     ['-0.10', '-0.05', '0.00', '0.05', '0.10'], b6_z0, b6_z1, 5.0),
    (6, (323, 541, 436, 665), (-0.235, 0.204), (-0.205, 0.2), [-0.2, -0.1, 0, 0.1, 0.2], ['-0.2', '-0.1', '0.0', '0.1', '0.2'],
     [-0.2, -0.1, 0, 0.1], ['-0.2', '-0.1', '0.0', '0.1'], b7_z0, b7_z1, None),
    # setting 2, row 1
    (0, (40, 758, 153, 882), (-2.87, 3.27), (-17.6, 18.8), [-2, -1, 0, 1, 2, 3], None, [-10, 0, 10], None, c1_z0, c1_z1, None),
    (1, (180, 758, 294, 882), (-4.9, 6.8), (-5.1, 7.9), [-2.5, 0, 2.5, 5], ['-2.5', '0.0', '2.5', '5.0'],
     [-5, -2.5, 0, 2.5, 5, 7.5], ['-5.0', '-2.5', '0.0', '2.5', '5.0', '7.5'], c2_z0, c2_z1, None),
    (2, (321, 758, 435, 882), (-3.3, 3.3), (-17.6, 18.8), [-3, -2, -1, 0, 1, 2, 3], None, [-10, 0, 10], None, c3_z0, c3_z1, None),
    (3, (460, 758, 573, 882), (-2.8, 3.27), (-17.6, 18.8), [-2, -1, 0, 1, 2, 3], None, [-10, 0, 10], None, c4_z0, c4_z1, None),
    # setting 2, row 2
    (4, (40, 921, 153, 1045), (-0.40, 0.367), (-0.43, 0.5), [-0.2, 0, 0.2], ['-0.2', '0.0', '0.2'],
     [-0.25, 0, 0.25, 0.5], ['-0.25', '0.00', '0.25', '0.50'], c5_z0, c5_z1, None),
    (5, (180, 921, 294, 1045), (-0.135, 0.168), (-0.172, 0.187), [-0.1, 0, 0.1], ['-0.1', '0.0', '0.1'],
     [-0.1, 0, 0.1], ['-0.1', '0.0', '0.1'], c6_z0, c6_z1, None),
    (6, (321, 921, 435, 1045), (-0.19, 0.205), (-0.21, 0.178), [-0.1, 0, 0.1], ['-0.1', '0.0', '0.1'],
     [-0.2, -0.1, 0, 0.1], ['-0.2', '-0.1', '0.0', '0.1'], c7_z0, c7_z1, None),
]
for k, (x0, y0, x1, y1), xlim, ylim, xt, xl, yt, yl, z0, z1, xfs in scatter_specs:
    if xl is None:
        xl = [str(v) for v in xt]
    if yl is None:
        yl = [str(v) for v in yt]
    ax = panel(x0, y0, x1, y1, xlim, ylim, xt, xl, yt, yl, fs=6.3, xfs=xfs)
    g = np.array(z0)
    o = np.array(z1)
    ax.scatter(g[:, 0], g[:, 1], s=3.5, c=grey_pt, marker='o', linewidths=0)
    ax.scatter(o[:, 0], o[:, 1], s=7, c=orange_pt, marker='^', linewidths=0)
    strip(x0, y0 - 16, x1, y0, methods[k], light(hues[k], 0.35), 8.7)

# ---------------- overlay: titles, legends, captions ----------------
ov = fig.add_axes([0, 0, 1, 1])
ov.set_xlim(0, W)
ov.set_ylim(H, 0)
ov.axis('off')
ov.patch.set_alpha(0)

for cx in (164, 448):
    ov.text(cx, 242, '1-Specificity (False Positive rate)', ha='center', va='center', fontsize=9.7)
for cx in (12, 297):
    ov.text(cx, 125, 'Sensitivity (True Positive rate)', ha='center', va='center', fontsize=9.7,
            rotation=90)

# method legend
ov.text(107, 283, 'Method', ha='center', va='center', fontsize=9.5)
key_x = [135, 252, 337, 387]
lab_x = [153, 268, 353, 410]
row_y = [271, 293]
for k, m in enumerate(methods):
    c, r = divmod(k, 2)
    kx, ky = key_x[c], row_y[r]
    ov.add_patch(Rectangle((kx, ky - 8.5), 12, 17, facecolor=light(hues[k], 0.3), edgecolor='none'))
    ln, = ov.plot([kx + 1, kx + 11], [ky, ky], color=hues[k], lw=0.9)
    if dashes[k] is not None:
        ln.set_dashes(dashes[k])
    ov.text(lab_x[c], ky, m, ha='left', va='center', fontsize=8.3)

# Z legends
for ly in (609, 988):
    ov.text(482, ly, 'Z', ha='center', va='center', fontsize=9.5)
    ov.plot([502], [ly], marker='o', ms=4.5, color=grey_pt, mew=0)
    ov.text(520, ly, '0', ha='center', va='center', fontsize=7.5)
    ov.plot([540], [ly - 0.5], marker='^', ms=5.5, color=orange_pt, mew=0)
    ov.text(559, ly, '1', ha='center', va='center', fontsize=7.5)

# X / Y labels for the facet grids
for xy_y, y_mid in ((683, 522), (1064, 902)):
    ov.text(306, xy_y, 'X', ha='center', va='center', fontsize=9.5)
    ov.text(7, y_mid, 'Y', ha='center', va='center', fontsize=9.5, rotation=90)

# captions
cap_font = dict(family=['Liberation Serif', 'DejaVu Serif'], fontsize=14, ha='center', va='center')
ov.text(288, 312, '(A) ROC curve', **cap_font)
ov.text(288, 718, '(B) Canonical vectors (simulation setting 1)', **cap_font)
ov.text(288, 1098, '(C) Canonical vectors (simulation setting 2)', **cap_font)

fig.savefig('out.png', dpi=100)
